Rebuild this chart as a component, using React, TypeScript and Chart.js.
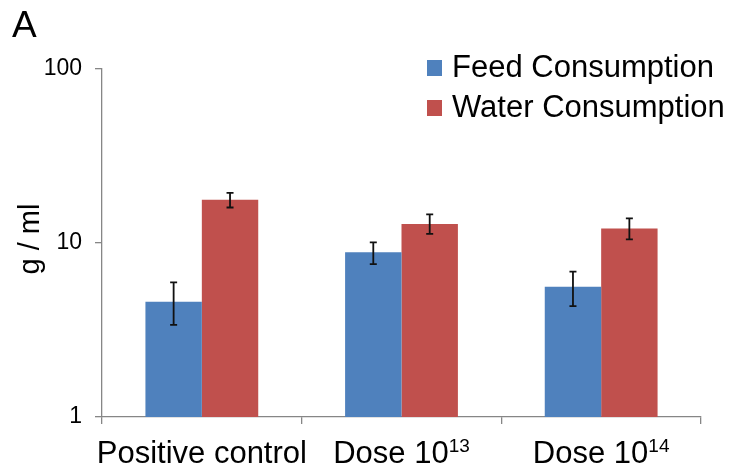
import React, { useEffect, useRef } from "react";
import { Chart, registerables } from "chart.js";

Chart.register(...registerables);

const categories = ["Positive control", "Dose 10^13", "Dose 10^14"];
const labelParts: { text: string; sup?: string }[] = [
  { text: "Positive control" },
  { text: "Dose 10", sup: "13" },
  { text: "Dose 10", sup: "14" },
];
const feedValues = [4.6, 8.85, 5.6];
const feedLow = [3.38, 7.57, 4.34];
const feedHigh = [5.94, 10.09, 6.84];
const waterValues = [17.7, 12.85, 12.1];
const waterLow = [16.0, 11.27, 10.5];
const waterHigh = [19.4, 14.6, 13.87];
const yTicks = [1, 10, 100];
const seriesNames = ["Feed Consumption", "Water Consumption"];
const panelLabel = "A";
const yTitle = "g / ml";

const BLUE = "#4F81BD";
const RED = "#C0504D";
const AXIS = "#868686";
const FONT = "'Liberation Sans', Arial, sans-serif";

const errorBars = [
  { low: feedLow, high: feedHigh },
  { low: waterLow, high: waterHigh },
];

const overlayPlugin = {
  id: "overlay",
  afterDatasetsDraw(chart: any) {
    const ctx = chart.ctx;
    const y = chart.scales.y;
    ctx.save();
    ctx.strokeStyle = "#111";
    ctx.lineWidth = 1.8;
    chart.data.datasets.forEach((ds: any, di: number) => {
      const meta = chart.getDatasetMeta(di);
      meta.data.forEach((bar: any, i: number) => {
        const x = bar.x;
        const yl = y.getPixelForValue(errorBars[di].low[i]);
        const yh = y.getPixelForValue(errorBars[di].high[i]);
        ctx.beginPath();
        ctx.moveTo(x, yl);
        ctx.lineTo(x, yh);
        ctx.moveTo(x - 3.5, yl);
        ctx.lineTo(x + 3.5, yl);
        ctx.moveTo(x - 3.5, yh);
        ctx.lineTo(x + 3.5, yh);
        ctx.stroke();
      });
    });
    ctx.restore();
  },
  afterDraw(chart: any) {
    const ctx = chart.ctx;
    const xs = chart.scales.x;
    ctx.save();
    ctx.fillStyle = "#000";
    ctx.font = `37px ${FONT}`;
    ctx.textAlign = "left";
    ctx.textBaseline = "alphabetic";
    ctx.fillText(panelLabel, 12, 37);
    ctx.save();
    ctx.translate(39, 239);
    ctx.rotate(-Math.PI / 2);
    ctx.font = `29px ${FONT}`;
    ctx.textAlign = "center";
    ctx.fillText(yTitle, 0, 0);
    ctx.restore();
    labelParts.forEach((p, i) => {
      const cx = xs.getPixelForValue(i);
      ctx.font = `31px ${FONT}`;
      const w1 = ctx.measureText(p.text).width;
      let w2 = 0;
      if (p.sup) {
        ctx.font = `19px ${FONT}`;
        w2 = ctx.measureText(p.sup).width;
      }
      const start = cx - (w1 + w2) / 2;
      ctx.textAlign = "left";
      ctx.font = `31px ${FONT}`;
      ctx.fillText(p.text, start, 463);
      if (p.sup) {
        ctx.font = `19px ${FONT}`;
        ctx.fillText(p.sup, start + w1, 452);
      }
    });
    const colors = [BLUE, RED];
    seriesNames.forEach((name, i) => {
      const top = 60 + i * 40;
      ctx.fillStyle = colors[i];
      ctx.fillRect(427, top, 15, 16);
      ctx.fillStyle = "#000";
      ctx.font = `31px ${FONT}`;
      ctx.fillText(name, 452, top + 16.5);
    });
    ctx.restore();
  },
};

export default function App() {
  const ref = useRef<HTMLCanvasElement>(null);
  useEffect(() => {
    document.body.style.margin = "0";
    const canvas = ref.current!;
    const chart = new Chart(canvas, {
      type: "bar",
      data: {
        labels: categories,
        datasets: [
          {
            label: seriesNames[0],
            data: feedValues,
            backgroundColor: BLUE,
            categoryPercentage: 0.565,
            barPercentage: 1.0,
          },
          {
            label: seriesNames[1],
            data: waterValues,
            backgroundColor: RED,
            categoryPercentage: 0.565,
            barPercentage: 1.0,
          },
        ],
      },
      options: {
        responsive: false,
        animation: false,
        layout: { padding: { top: 69, right: 28, left: 0, bottom: 0 } },
        plugins: {
          legend: { display: false },
          tooltip: { enabled: false },
          title: { display: false },
        },
        scales: {
          x: {
            offset: true,
            grid: {
              offset: true,
              drawOnChartArea: false,
              drawTicks: true,
              tickLength: 7,
              color: AXIS,
              lineWidth: 1.3,
            },
            border: { color: AXIS, width: 1.3 },
            ticks: { display: false },
            afterFit(scale: any) {
              scale.height = 53;
            },
          },
          y: {
            type: "logarithmic",
            min: 1,
            max: 100,
            grid: {
              drawOnChartArea: false,
              drawTicks: true,
              tickLength: 7,
              color: AXIS,
              lineWidth: 1.3,
            },
            border: { color: AXIS, width: 1.3 },
            ticks: {
              color: "#000",
              font: { family: FONT, size: 23 },
              padding: 13,
              callback: (v: any) => String(v),
            },
            afterBuildTicks(scale: any) {
              scale.ticks = yTicks.map((v) => ({ value: v }));
            },
            afterFit(scale: any) {
              scale.width = 102;
            },
          },
        },
      },
      plugins: [overlayPlugin],
    });
    return () => chart.destroy();
  }, []);
  return <canvas ref={ref} width={729} height={470} style={{ display: "block" }} />;
}
